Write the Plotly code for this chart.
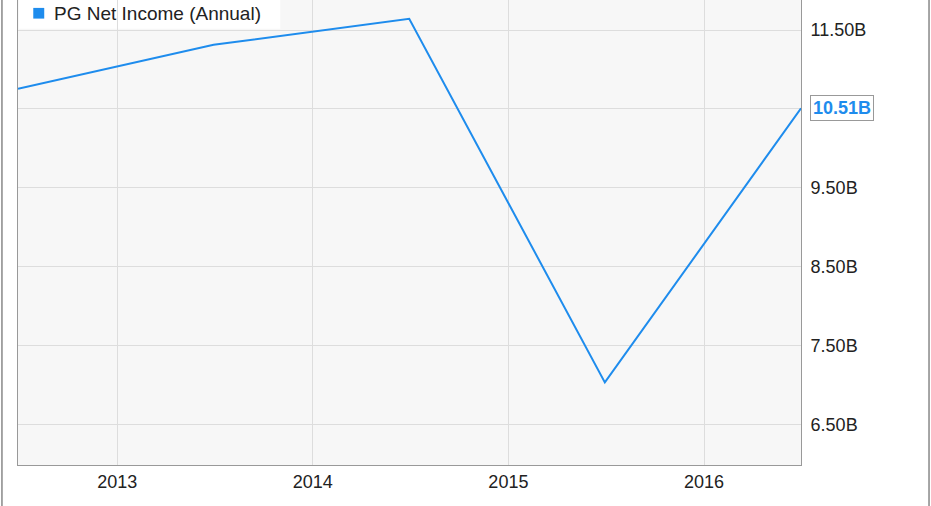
import plotly.graph_objects as go

dates = ["2012-06-30", "2013-06-30", "2014-06-30", "2015-06-30", "2016-06-30"]
net_income_b = [10.756, 11.312, 11.643, 7.036, 10.508]
series_name = "PG Net Income (Annual)"
y_ticks = [6.5, 7.5, 8.5, 9.5, 10.5, 11.5]
y_tick_labels = ["6.50B", "7.50B", "8.50B", "9.50B", "", "11.50B"]
x_ticks = ["2013-01-01", "2014-01-01", "2015-01-01", "2016-01-01"]
x_tick_labels = ["2013", "2014", "2015", "2016"]

blue = "#1e8ced"
ff = "Liberation Sans, Arial, sans-serif"
fig = go.Figure()
fig.add_trace(go.Scatter(x=dates, y=net_income_b, mode="lines",
                         line=dict(color=blue, width=2), showlegend=False,
                         hoverinfo="skip"))

font = dict(family=ff, size=18, color="#222222")
fig.update_layout(
    width=931, height=506,
    margin=dict(l=18, r=130, t=0, b=41, autoexpand=False),
    paper_bgcolor="white", plot_bgcolor="#f7f7f7",
    font=font,
    xaxis=dict(range=["2012-06-30", "2016-06-30"], tickvals=x_ticks, ticktext=x_tick_labels,
               showgrid=True, gridcolor="#dddddd", gridwidth=1,
               showline=True, linecolor="#999999", linewidth=1, mirror=True,
               ticks="", zeroline=False, tickfont=font),
    yaxis=dict(range=[5.99, 11.88], side="right", tickvals=y_ticks, ticktext=y_tick_labels,
               showgrid=True, gridcolor="#dddddd", gridwidth=1,
               showline=True, linecolor="#999999", linewidth=1, mirror=True,
               ticks="outside", ticklen=5, tickcolor="rgba(0,0,0,0)",
               zeroline=False, tickfont=font),
    shapes=[
        dict(type="line", xref="paper", yref="paper", x0=-0.0205, x1=-0.0205, y0=-0.09, y1=1,
             line=dict(color="#888888", width=1.5)),
        dict(type="line", xref="paper", yref="paper", x0=1.1635, x1=1.1635, y0=-0.09, y1=1,
             line=dict(color="#888888", width=1.5)),
        dict(type="rect", xref="paper", yref="paper", x0=0.001, x1=0.335, y0=0.938, y1=1.0,
             fillcolor="white", line=dict(width=0), layer="below"),
        dict(type="rect", xref="paper", yref="paper", x0=0.0195, x1=0.0335, y0=0.96, y1=0.983,
             fillcolor=blue, line=dict(width=0)),
    ],
    annotations=[
        dict(text=series_name, xref="paper", yref="paper", x=0.044, y=0.972,
             xanchor="left", yanchor="middle", showarrow=False,
             font=dict(family=ff, size=19, color="#222222")),
        dict(text="<b>%.2fB</b>" % net_income_b[-1], x=dates[-1], y=net_income_b[-1],
             xref="x", yref="y", xanchor="left", yanchor="middle", xshift=9,
             showarrow=False, bgcolor="white", bordercolor="#999999", borderwidth=1, borderpad=2,
             font=dict(family=ff, size=18, color=blue)),
    ],
)
fig.write_html("out.html", config={"displayModeBar": False},
               post_script="document.body.style.margin='0';")
